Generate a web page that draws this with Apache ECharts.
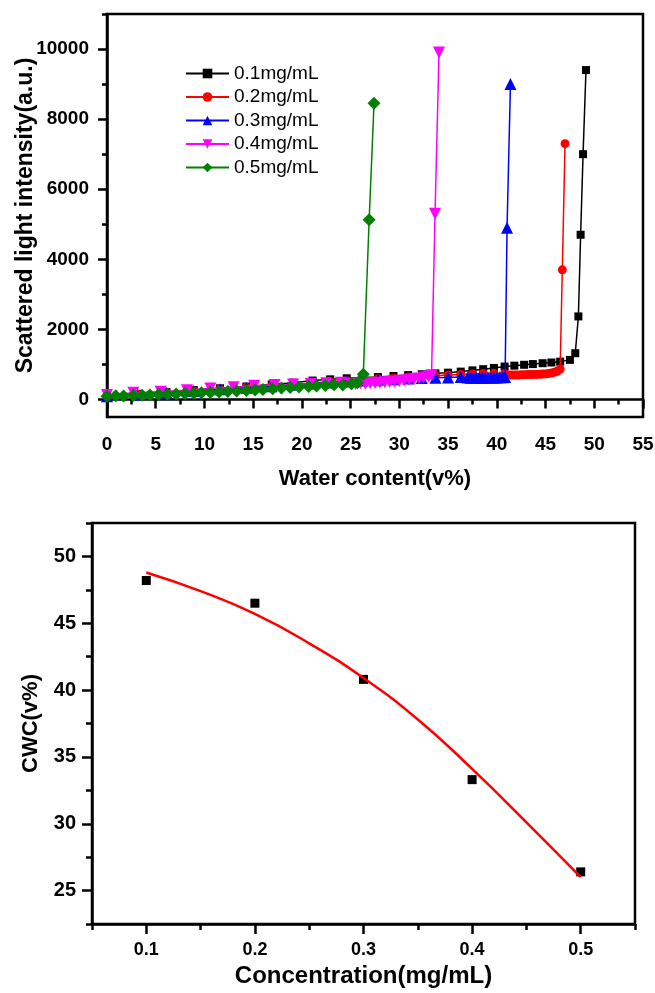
<!DOCTYPE html>
<html>
<head>
<meta charset="utf-8">
<script src="https://cdn.jsdelivr.net/npm/echarts/dist/echarts.min.js"></script>
<style>html,body{margin:0;padding:0;background:#fff}#c{width:655px;height:993px}</style>
</head>
<body>
<div id="c"></div>
<script>
// ---- top chart data: water content (v%) vs scattered light intensity ----
const names = ['0.1mg/mL', '0.2mg/mL', '0.3mg/mL', '0.4mg/mL', '0.5mg/mL'];
const x01 = [0, 3.1, 6.1, 8.9, 11.6, 14.3, 16.9, 19.1, 21.1, 22.9, 24.6, 26.2, 27.8, 29.4, 30.9, 32.3, 33.7, 35.0, 36.3, 37.5, 38.6, 39.7, 40.8, 41.8, 42.8, 43.7, 44.7, 45.6, 46.5, 47.5, 48.05, 48.37, 48.6, 48.85, 49.15];
const y01 = [110, 160, 215, 270, 320, 370, 430, 480, 540, 575, 605, 625, 640, 670, 695, 720, 745, 765, 795, 830, 865, 900, 940, 965, 990, 1010, 1035, 1055, 1080, 1130, 1320, 2370, 4700, 7000, 9400];
const x02 = [0, 3.1, 6.1, 8.9, 11.6, 14.3, 16.9, 19.1, 21.1, 22.9, 24.6, 26.2, 27.8, 29.4, 30.9, 32.3, 33.7, 35.0, 36.3, 37.5, 38.6, 39.7, 40.8, 41.1, 41.4, 41.7, 42.0, 42.3, 42.6, 42.9, 43.2, 43.5, 43.8, 44.1, 44.4, 44.7, 45.0, 45.3, 45.6, 45.9, 46.2, 46.5, 46.72, 47.0];
const y02 = [100, 150, 200, 250, 295, 345, 390, 430, 470, 505, 535, 565, 590, 615, 640, 660, 680, 700, 715, 730, 740, 745, 740, 700, 700, 695, 700, 700, 705, 705, 710, 710, 715, 715, 720, 725, 730, 740, 755, 775, 805, 870, 3700, 7300];
const x03 = [0, 3.1, 6.1, 8.9, 11.6, 14.3, 16.9, 19.1, 21.1, 22.9, 24.6, 26.2, 27.8, 29.4, 30.9, 32.3, 33.7, 35.0, 36.3, 37.0, 37.3, 37.6, 37.9, 38.2, 38.5, 38.8, 39.1, 39.4, 39.7, 40.0, 40.3, 40.6, 40.85, 41.05, 41.4];
const y03 = [95, 145, 195, 245, 290, 335, 380, 420, 455, 485, 515, 540, 560, 580, 600, 610, 620, 630, 640, 625, 620, 625, 620, 620, 625, 620, 625, 625, 630, 630, 635, 635, 640, 4900, 9000];
const x04 = [0, 2.7, 5.5, 8.2, 10.6, 13.0, 15.1, 17.2, 19.1, 20.9, 22.5, 24.0, 25.0, 25.5, 26.0, 26.5, 27.0, 27.5, 28.0, 28.5, 29.0, 29.5, 30.0, 30.5, 31.0, 31.5, 32.0, 32.5, 33.0, 33.3, 33.66, 34.07];
const y04 = [130, 190, 220, 260, 310, 350, 390, 410, 430, 450, 465, 475, 450, 445, 460, 450, 460, 470, 480, 490, 500, 515, 530, 545, 560, 580, 600, 625, 650, 690, 5300, 9900];
const x05 = [0, 0.9, 1.7, 2.7, 3.6, 4.4, 5.3, 6.2, 7.1, 8.0, 8.9, 9.7, 10.6, 11.5, 12.4, 13.3, 14.3, 15.2, 16.0, 17.0, 17.9, 18.8, 19.7, 20.7, 21.5, 22.4, 23.3, 24.2, 25.1, 25.7, 26.3, 26.9, 27.4];
const y05 = [95, 105, 100, 115, 120, 130, 140, 150, 155, 170, 180, 195, 200, 215, 225, 240, 255, 270, 285, 305, 330, 345, 355, 370, 385, 400, 420, 410, 450, 480, 720, 5130, 8450];
const topYTicks = [0, 2000, 4000, 6000, 8000, 10000];
const topYMinor = [1000, 3000, 5000, 7000, 9000, 11000];

// ---- bottom chart data: CWC vs concentration ----
const conc = [0.1, 0.2, 0.3, 0.4, 0.5];
const cwc = [48.2, 46.5, 40.8, 33.3, 26.4];
const fitX = [0.1, 0.15, 0.2, 0.25, 0.3, 0.35, 0.4, 0.45, 0.5];
const fitY = [48.8, 47.4, 45.7, 43.5, 40.9, 37.8, 34.1, 30.1, 26.0];
const botXTicks = [0.1, 0.2, 0.3, 0.4, 0.5];
const botXMinor = [0.05, 0.15, 0.25, 0.35, 0.45, 0.55];
const botYTicks = [25, 30, 35, 40, 45, 50];
const botYMinor = [22.5, 27.5, 32.5, 37.5, 42.5, 47.5, 52.5];

const FONT = "'Liberation Sans', Arial, sans-serif";
const zip = (a, b) => a.map((v, i) => [v, b[i]]);
const axLine = { show: true, lineStyle: { color: '#000', width: 2.5 } };
const lbl = (size, margin) => ({ color: '#000', fontFamily: FONT, fontWeight: 'bold', fontSize: size, margin: margin });
const nameStyle = (size) => ({ color: '#000', fontFamily: FONT, fontWeight: 'bold', fontSize: size });

const colors = ['#000000', '#ff0000', '#0000ff', '#ff00ff', '#008000'];
const symbols = ['rect', 'circle', 'triangle', 'triangle', 'diamond'];
const sizes = [8, 9, 12, 12, 13];
const rots = [0, 0, 0, 180, 0];
const xs = [x01, x02, x03, x04, x05];
const ys = [y01, y02, y03, y04, y05];

const topSeries = names.map((n, i) => ({
  name: n, type: 'line', xAxisIndex: 0, yAxisIndex: 0,
  data: zip(xs[i], ys[i]),
  symbol: symbols[i], symbolSize: sizes[i], symbolRotate: rots[i],
  showSymbol: true, showAllSymbol: true,
  lineStyle: { color: colors[i], width: 1.5 },
  itemStyle: { color: colors[i], opacity: 1 },
  z: 2 + i
}));

const option = {
  animation: false,
  backgroundColor: '#fff',
  grid: [
    { left: 107, top: 14, width: 536, height: 403, show: true, borderColor: '#000', borderWidth: 2.5, backgroundColor: 'transparent', containLabel: false, outerBoundsMode: 'none' },
    { left: 92, top: 523, width: 543, height: 401, show: true, borderColor: '#000', borderWidth: 2.5, backgroundColor: 'transparent', containLabel: false, outerBoundsMode: 'none' }
  ],
  legend: {
    data: names, orient: 'vertical', left: 180, top: 59,
    itemWidth: 43, itemHeight: 12, itemGap: 4.5,
    textStyle: { color: '#000', fontFamily: FONT, fontSize: 19 }
  },
  xAxis: [
    { gridIndex: 0, type: 'value', position: 'bottom', min: 0, max: 55, interval: 5,
      name: 'Water content(v%)', nameLocation: 'middle', nameGap: 51, nameMoveOverlap: false, nameTextStyle: nameStyle(22),
      axisLine: axLine, axisTick: { show: true, length: 9, lineStyle: { color: '#000', width: 2.5 } },
      minorTick: { show: true, splitNumber: 2, length: 5, lineStyle: { color: '#000', width: 2.5 } },
      axisLabel: lbl(19, 18), splitLine: { show: false } },
    { gridIndex: 1, type: 'value', position: 'bottom', min: 0.05, max: 0.55,
      name: 'Concentration(mg/mL)', nameLocation: 'middle', nameGap: 40, nameMoveOverlap: false, nameTextStyle: nameStyle(24),
      axisLine: axLine,
      axisTick: { show: true, length: 10, customValues: botXTicks, lineStyle: { color: '#000', width: 2.5 } },
      axisLabel: Object.assign(lbl(18, 17), { customValues: botXTicks, formatter: v => v.toFixed(1) }),
      splitLine: { show: false } },
    { gridIndex: 1, type: 'value', position: 'bottom', min: 0.05, max: 0.55,
      axisLine: { show: false },
      axisTick: { show: true, length: 6, customValues: botXMinor, lineStyle: { color: '#000', width: 2.5 } },
      axisLabel: { show: false }, splitLine: { show: false } }
  ],
  yAxis: [
    { gridIndex: 0, type: 'value', position: 'left', min: -500, max: 11000,
      name: 'Scattered light intensity(a.u.)', nameLocation: 'middle', nameGap: 70, nameMoveOverlap: false, nameTextStyle: nameStyle(23),
      axisLine: axLine,
      axisTick: { show: true, length: 9, customValues: topYTicks, lineStyle: { color: '#000', width: 2.5 } },
      axisLabel: Object.assign(lbl(19, 18), { customValues: topYTicks, formatter: v => String(v) }),
      splitLine: { show: false } },
    { gridIndex: 0, type: 'value', position: 'left', min: -500, max: 11000,
      axisLine: { show: false },
      axisTick: { show: true, length: 5, customValues: topYMinor, lineStyle: { color: '#000', width: 2.5 } },
      axisLabel: { show: false }, splitLine: { show: false } },
    { gridIndex: 1, type: 'value', position: 'left', min: 22.5, max: 52.5,
      name: 'CWC(v%)', nameLocation: 'middle', nameGap: 50, nameMoveOverlap: false, nameTextStyle: nameStyle(22),
      axisLine: axLine,
      axisTick: { show: true, length: 10, customValues: botYTicks, lineStyle: { color: '#000', width: 2.5 } },
      axisLabel: Object.assign(lbl(20, 16), { customValues: botYTicks }),
      splitLine: { show: false } },
    { gridIndex: 1, type: 'value', position: 'left', min: 22.5, max: 52.5,
      axisLine: { show: false },
      axisTick: { show: true, length: 6, customValues: botYMinor, lineStyle: { color: '#000', width: 2.5 } },
      axisLabel: { show: false }, splitLine: { show: false } }
  ],
  series: topSeries.concat([
    { name: 'CWC', type: 'scatter', xAxisIndex: 1, yAxisIndex: 2, data: zip(conc, cwc),
      symbol: 'rect', symbolSize: 9, itemStyle: { color: '#000', opacity: 1 }, z: 3 },
    { name: 'Fit', type: 'line', xAxisIndex: 1, yAxisIndex: 2, data: zip(fitX, fitY),
      smooth: true, showSymbol: false, symbol: 'none',
      lineStyle: { color: '#ff0000', width: 2.5 }, z: 4 }
  ])
};

const chart = echarts.init(document.getElementById('c'), null, { renderer: 'canvas' });
chart.setOption(option);
</script>
</body>
</html>
